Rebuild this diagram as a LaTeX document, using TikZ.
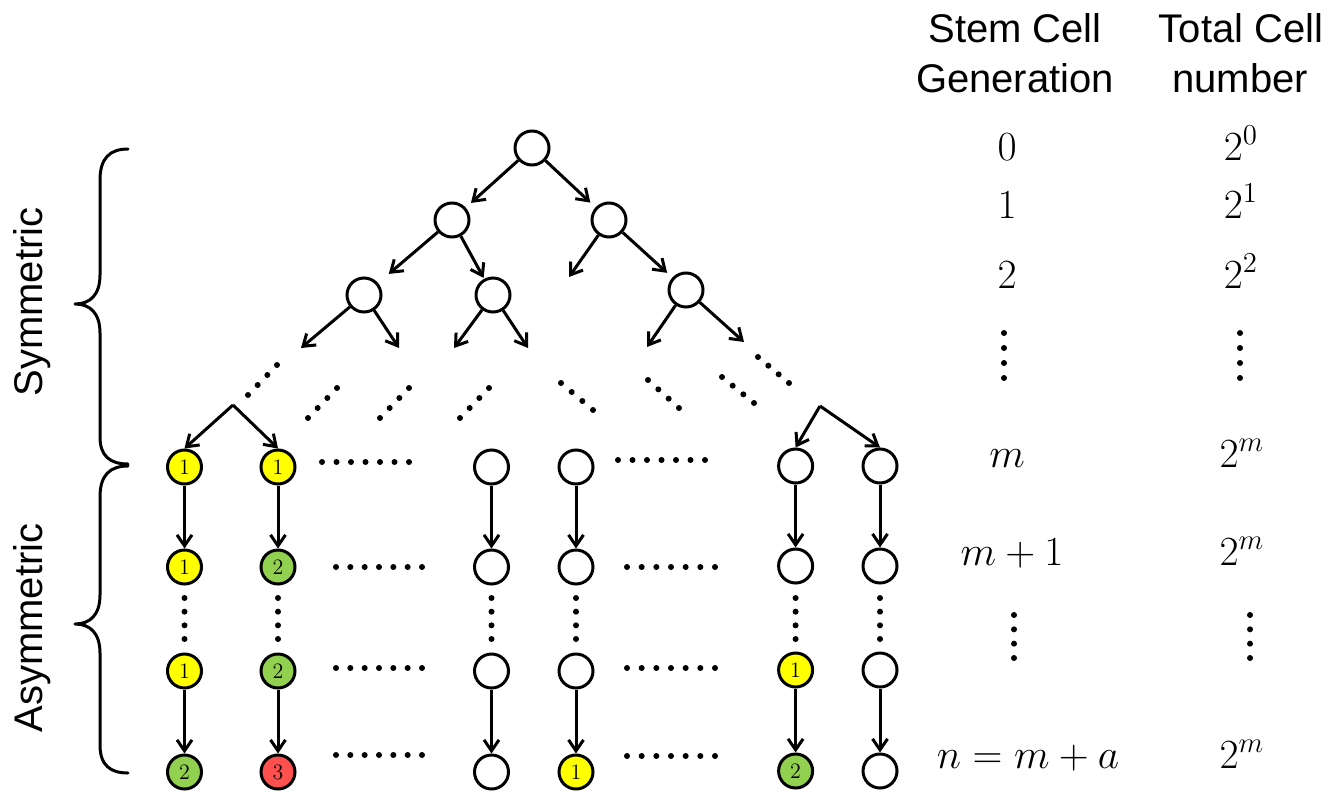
\documentclass[tikz,border=0pt]{standalone}
\usepackage{fontspec}
\newfontfamily\arialfont{Liberation Sans}
\usetikzlibrary{arrows.meta}
\definecolor{cyel}{HTML}{FFFF00}
\definecolor{cgrn}{HTML}{92D050}
\definecolor{cred}{HTML}{FF5050}
\newcommand\dotline[5]{\foreach \k in {0,...,#5}{\fill ({#1+\k*(#3-#1)/#5},{#2+\k*(#4-#2)/#5}) circle (1.5pt);}}
\begin{document}
\begin{tikzpicture}[x=0.5pt,y=-0.5pt,
  cell/.style={circle, draw=black, line width=1.5pt, minimum size=17pt, inner sep=0pt, fill=white, font=\fontsize{11}{12}\selectfont},
  yel/.style={cell, fill=cyel},
  grn/.style={cell, fill=cgrn},
  rd/.style={cell, fill=cred},
  arr/.style={-{Straight Barb[length=5.5pt,width=7.5pt]}, line width=1.5pt},
  hdr/.style={anchor=base, font=\arialfont\fontsize{20}{24}\selectfont},
  mth/.style={anchor=base, font=\fontsize{20.5}{24}\selectfont},
  brace/.style={line width=1.5pt, line cap=round, line join=round}]
\fill[white] (0,0) rectangle (1342,792);
\useasboundingbox (0,0) rectangle (1342,792);

% headers
\node[hdr] (h1) at (1015,43) {Stem Cell};
\node[hdr] (h2) at (1015,92) {Generation};
\node[hdr] (h3) at (1241,43) {Total Cell};
\node[hdr] (h4) at (1240,92) {number};

% side labels
\node[hdr, rotate=90] (sym) at (42,302) {Symmetric};
\node[hdr, rotate=90] (asym) at (42,628) {Asymmetric};

% braces
\draw[brace] (128,149) .. controls (110,149) and (100,158) .. (100,180) -- (100,275)
  .. controls (100,295) and (90,304) .. (75,304) .. controls (90,304) and (100,313) .. (100,333)
  -- (100,437) .. controls (100,456) and (110,464) .. (128,464);
\draw[brace] (128,466) .. controls (110,466) and (100,475) .. (100,497) -- (100,595)
  .. controls (100,615) and (90,624) .. (75,624) .. controls (90,624) and (100,633) .. (100,653)
  -- (100,745) .. controls (100,765) and (110,773) .. (128,773);

% math column
\node[mth] (m0) at (1007,160) {$0$};
\node[mth] (t0) at (1241,160) {$2^{0}$};
\node[mth] (m1) at (1007,218) {$1$};
\node[mth] (t1) at (1241,218) {$2^{1}$};
\node[mth] (m2) at (1007,288) {$2$};
\node[mth] (t2) at (1241,288) {$2^{2}$};
\node[mth] (mm) at (1007,467) {$m$};
\node[mth] (tm) at (1242,467) {$2^{m}$};
\node[mth] (mm1) at (1012,565) {$m+1$};
\node[mth] (tm1) at (1242,565) {$2^{m}$};
\node[mth] (mn) at (1028,768) {$n=m+a$};
\node[mth] (tn) at (1242,768) {$2^{m}$};
\dotline{1004}{333}{1004}{378}{3}
\dotline{1240}{333}{1240}{378}{3}
\dotline{1014}{615}{1014}{658}{3}
\dotline{1250}{615}{1250}{658}{3}

% tree
\node[cell] (r) at (532,148) {};
\node[cell] (a1) at (452,220) {};
\node[cell] (a2) at (609,220) {};
\node[cell] (b1) at (364,295) {};
\node[cell] (b2) at (493,295) {};
\node[cell] (b3) at (686,290) {};
\coordinate (e1) at (569,277);
\coordinate (e2) at (301,348);
\coordinate (e3) at (399,348);
\coordinate (e4) at (454,348);
\coordinate (e5) at (528,348);
\coordinate (e6) at (647,347);
\coordinate (e7) at (744,342);
\coordinate (f1) at (233,405);
\coordinate (f2) at (820,406);

\draw[arr, shorten >=3.5pt] (r) -- (a1);
\draw[arr, shorten >=3.5pt] (r) -- (a2);
\draw[arr, shorten >=7pt] (a1) -- (b1);
\draw[arr, shorten >=0.5pt] (a1) -- (b2);
\draw[arr, shorten >=3.5pt] (a2) -- (b3);
\draw[arr] (a2) -- (e1);
\draw[arr] (b1) -- (e2);
\draw[arr] (b1) -- (e3);
\draw[arr] (b2) -- (e4);
\draw[arr] (b2) -- (e5);
\draw[arr] (b3) -- (e6);
\draw[arr] (b3) -- (e7);

% diagonal dots
\dotline{248}{395}{277}{365}{3}
\dotline{308}{418}{337}{388}{3}
\dotline{380}{418}{409}{388}{3}
\dotline{460}{418}{489}{388}{3}
\dotline{561}{383}{593}{410}{3}
\dotline{648}{380}{679}{408}{3}
\dotline{722}{377}{754}{403}{3}
\dotline{758}{357}{789}{383}{3}

% grid
\node[yel] (g11) at (184.5,467) {1};
\node[yel] (g12) at (278,467) {1};
\node[cell] (g13) at (491.5,467) {};
\node[cell] (g14) at (576,467) {};
\node[cell] (g15) at (795.6,466) {};
\node[cell] (g16) at (880,466) {};

\node[yel] (g21) at (184.5,567) {1};
\node[grn] (g22) at (278,567) {2};
\node[cell] (g23) at (491.5,567) {};
\node[cell] (g24) at (576,567) {};
\node[cell] (g25) at (795.6,566) {};
\node[cell] (g26) at (880,566) {};

\node[yel] (g31) at (184.5,671) {1};
\node[grn] (g32) at (278,671) {2};
\node[cell] (g33) at (491.5,671) {};
\node[cell] (g34) at (576,671) {};
\node[yel] (g35) at (795.6,670) {1};
\node[cell] (g36) at (880,670) {};

\node[grn] (g41) at (184.5,772) {2};
\node[rd] (g42) at (278,772) {3};
\node[cell] (g43) at (491.5,772) {};
\node[yel] (g44) at (576,772) {1};
\node[grn] (g45) at (795.6,771) {2};
\node[cell] (g46) at (880,771) {};

\draw[arr] (f1) -- (g11.north);
\draw[arr] (f1) -- (g12.north);
\draw[arr] (f2) -- (g15.north);
\draw[arr] (f2) -- (g16.north);

\foreach \c in {1,...,6}{
  \draw[arr] (g1\c) -- (g2\c);
  \draw[arr] (g3\c) -- (g4\c);
}

% vertical column dots
\foreach \x in {184.5,278,491.5,576,795.6,880}{
  \dotline{\x}{598}{\x}{639}{3}
}

% horizontal dot rows
\dotline{322}{462}{409}{462}{6}
\dotline{618}{460}{705}{460}{6}
\dotline{336}{567}{422}{567}{6}
\dotline{627}{567}{715}{567}{6}
\dotline{336}{668}{422}{668}{6}
\dotline{627}{668}{715}{668}{6}
\dotline{336}{755}{422}{755}{6}
\dotline{627}{756}{715}{756}{6}
\end{tikzpicture}
\end{document}
